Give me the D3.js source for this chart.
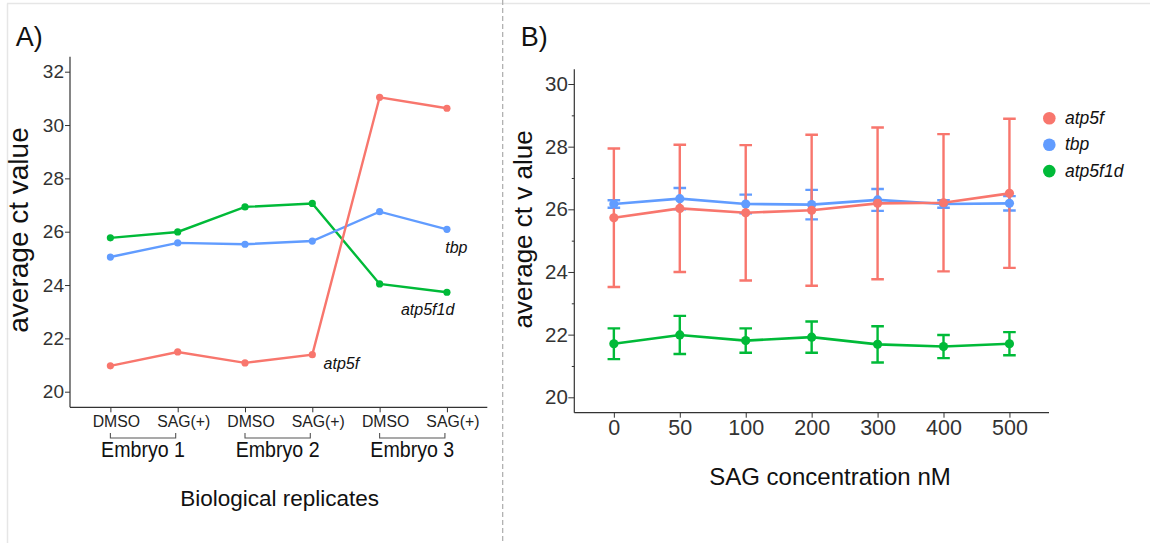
<!DOCTYPE html>
<html><head><meta charset="utf-8">
<script src="https://cdn.jsdelivr.net/npm/d3@7"></script>
<style>body{margin:0;background:#fff} text{font-family:"Liberation Sans",Arial,Helvetica,sans-serif}</style>
</head><body><svg id="c" width="1150" height="543"></svg>
<script>
// ---------- Panel A data ----------
const samplesA = ["E1 DMSO","E1 SAG","E2 DMSO","E2 SAG","E3 DMSO","E3 SAG"];
const treatmentLabels = ["DMSO","SAG(+)","DMSO","SAG(+)","DMSO","SAG(+)"];
const embryoLabels = ["Embryo 1","Embryo 2","Embryo 3"];
const atp5fA   = [20.97,21.49,21.08,21.39,31.04,30.63];
const tbpA     = [25.05,25.58,25.53,25.65,26.75,26.09];
const atp5f1dA = [25.77,25.99,26.93,27.06,24.04,23.73];
const yTicksA  = [20,22,24,26,28,30,32];

// ---------- Panel B data ----------
const concB      = ["0","50","100","200","300","400","500"];
const atp5fB     = [25.73,26.03,25.89,25.97,26.19,26.21,26.51];
const atp5fErrB  = [2.21,2.03,2.16,2.41,2.42,2.19,2.38];
const tbpB       = [26.17,26.34,26.17,26.15,26.30,26.17,26.19];
const tbpErrB    = [0.12,0.34,0.30,0.47,0.35,0.12,0.23];
const atp5f1dB   = [21.71,21.99,21.81,21.92,21.69,21.62,21.71];
const atp5f1dErrB= [0.49,0.61,0.39,0.50,0.58,0.37,0.37];
const yTicksB    = [20,21,22,23,24,25,26,27,28,29,30];

const genes = ["atp5f","tbp","atp5f1d"];
const colors = {atp5f:"#F8766D", tbp:"#619CFF", atp5f1d:"#00BA38"};

const svg = d3.select("#c");
const AX = "#333";

// frame and divider
svg.append("line").attr("x1",7).attr("x2",1150).attr("y1",3.5).attr("y2",3.5).attr("stroke","#e6e6e6").attr("stroke-width",1.5);
svg.append("line").attr("x1",7.5).attr("x2",7.5).attr("y1",3.5).attr("y2",543).attr("stroke","#e6e6e6").attr("stroke-width",1.5);
svg.append("line").attr("x1",502.7).attr("x2",502.7).attr("y1",0).attr("y2",543).attr("stroke","#aaa").attr("stroke-width",1.2).attr("stroke-dasharray","5,3");

// ================= Panel A =================
const xA = d3.scalePoint().domain(samplesA).range([70,487.3]).padding(0.6);
const yA = d3.scaleLinear().domain([20,32]).range([391.7,71.7]);

svg.append("text").attr("x",15.7).attr("y",45.5).attr("font-size",27).attr("fill","#111").text("A)");

const gyA = svg.append("g").attr("transform","translate(70,0)")
  .call(d3.axisLeft(yA).tickValues(yTicksA).tickSize(5).tickPadding(1));
gyA.select(".domain").remove();
gyA.selectAll(".tick line").attr("stroke",AX);
gyA.selectAll(".tick text").attr("font-size",19).attr("fill","#333").attr("font-family",null);
svg.append("line").attr("x1",70).attr("x2",70).attr("y1",56.7).attr("y2",407.3).attr("stroke",AX).attr("stroke-width",1.2);

const gxA = svg.append("g").attr("transform","translate(0,407.3)")
  .call(d3.axisBottom(xA).tickSize(5).tickFormat(""));
gxA.select(".domain").remove();
gxA.selectAll(".tick line").attr("stroke",AX);
svg.append("line").attr("x1",70).attr("x2",487.3).attr("y1",407.3).attr("y2",407.3).attr("stroke",AX).attr("stroke-width",1.2);

svg.append("g").selectAll("text").data(samplesA).join("text")
  .attr("x",(d)=>xA(d)+6).attr("y",426.7).attr("text-anchor","middle")
  .attr("font-size",15.8).attr("fill","#222")
  .text((d,i)=>treatmentLabels[i]);

embryoLabels.forEach((lab,i)=>{
  const x1 = xA(samplesA[2*i]), x2 = xA(samplesA[2*i+1]) - 2;
  svg.append("path").attr("d",`M${x1},433V438H${x2}V433`).attr("fill","none").attr("stroke","#555").attr("stroke-width",1.1);
  svg.append("text").attr("transform",`translate(${(x1+x2)/2},457) scale(1,1.1)`).attr("text-anchor","middle")
    .attr("font-size",19.6).attr("fill","#111").text(lab);
});

svg.append("text").attr("x",279.7).attr("y",506).attr("text-anchor","middle")
  .attr("font-size",22.5).attr("fill","#111").text("Biological replicates");
svg.append("text").attr("transform","translate(28,230) rotate(-90)").attr("text-anchor","middle")
  .attr("font-size",28).attr("fill","#111").text("average ct value");

const seriesA = {atp5f:atp5fA, tbp:tbpA, atp5f1d:atp5f1dA};
const lineA = d3.line().x((d,i)=>xA(samplesA[i])).y(d=>yA(d));
["atp5f1d","tbp","atp5f"].forEach(g=>{
  svg.append("path").attr("d",lineA(seriesA[g])).attr("fill","none")
    .attr("stroke",colors[g]).attr("stroke-width",2.4);
  svg.append("g").selectAll("circle").data(seriesA[g]).join("circle")
    .attr("cx",(d,i)=>xA(samplesA[i])).attr("cy",d=>yA(d)).attr("r",3.6).attr("fill",colors[g]);
});
// direct labels
const lastA = samplesA.length-1;
svg.append("text").attr("x",xA(samplesA[lastA])-1.7).attr("y",yA(tbpA[lastA])+23.4)
  .attr("font-size",16).attr("font-style","italic").attr("fill","#111").text("tbp");
svg.append("text").attr("x",xA(samplesA[lastA])-46).attr("y",yA(atp5f1dA[lastA])+22.7)
  .attr("font-size",16).attr("font-style","italic").attr("fill","#111").text("atp5f1d");
svg.append("text").attr("x",xA(samplesA[3])+11.3).attr("y",yA(atp5fA[3])+14.6)
  .attr("font-size",16).attr("font-style","italic").attr("fill","#111").text("atp5f");

// ================= Panel B =================
const xB = d3.scalePoint().domain(concB).range([574.3,1049]).padding(0.6);
const yB = d3.scaleLinear().domain([20,30]).range([397.3,84]);

svg.append("text").attr("x",520.7).attr("y",45.5).attr("font-size",27).attr("fill","#111").text("B)");

const gyB = svg.append("g").attr("transform","translate(574.3,0)")
  .call(d3.axisLeft(yB).tickValues(yTicksB).tickSize(6).tickPadding(0.5).tickFormat(d=>d%2?"":d));
gyB.select(".domain").remove();
gyB.selectAll(".tick line").attr("stroke",AX).attr("x2",d=>d%2?-2.5:-6);
gyB.selectAll(".tick text").attr("font-size",20.5).attr("fill","#333").attr("font-family",null);
svg.append("line").attr("x1",574.3).attr("x2",574.3).attr("y1",69.3).attr("y2",412.7).attr("stroke",AX).attr("stroke-width",1.2);

const gxB = svg.append("g").attr("transform","translate(0,412.7)")
  .call(d3.axisBottom(xB).tickSize(5));
gxB.select(".domain").remove();
gxB.selectAll(".tick line").attr("stroke",AX);
gxB.selectAll(".tick text").attr("font-size",21.5).attr("fill","#333").attr("font-family",null)
  .attr("y",22.3).attr("dy",0);
svg.append("line").attr("x1",574.3).attr("x2",1049).attr("y1",412.7).attr("y2",412.7).attr("stroke",AX).attr("stroke-width",1.2);

svg.append("text").attr("x",830).attr("y",485).attr("text-anchor","middle")
  .attr("font-size",24).attr("fill","#111").text("SAG concentration nM");
svg.append("text").attr("transform","translate(532,229.4) rotate(-90)").attr("text-anchor","middle")
  .attr("font-size",26).attr("fill","#111").text("average ct v alue");

const seriesB = {atp5f:[atp5fB,atp5fErrB], tbp:[tbpB,tbpErrB], atp5f1d:[atp5f1dB,atp5f1dErrB]};
const order = ["tbp","atp5f1d","atp5f"];
// error bars
order.forEach(g=>{
  const [m,e] = seriesB[g];
  const gg = svg.append("g").attr("stroke",colors[g]).attr("stroke-width",2.4).attr("fill","none");
  m.forEach((v,i)=>{
    const x = xB(concB[i]), y1 = yB(v-e[i]), y2 = yB(v+e[i]);
    gg.append("path").attr("d",`M${x},${y1}V${y2}M${x-6.3},${y1}H${x+6.3}M${x-6.3},${y2}H${x+6.3}`);
  });
});
const lineB = d3.line().x((d,i)=>xB(concB[i])).y(d=>yB(d));
order.forEach(g=>{
  svg.append("path").attr("d",lineB(seriesB[g][0])).attr("fill","none")
    .attr("stroke",colors[g]).attr("stroke-width",2.6);
});
order.forEach(g=>{
  svg.append("g").selectAll("circle").data(seriesB[g][0]).join("circle")
    .attr("cx",(d,i)=>xB(concB[i])).attr("cy",d=>yB(d)).attr("r",4.6).attr("fill",colors[g]);
});

// legend
genes.forEach((g,i)=>{
  const y = 118.3 + i*26.4;
  svg.append("circle").attr("cx",1049.3).attr("cy",y).attr("r",6.3).attr("fill",colors[g]);
  svg.append("text").attr("x",1065).attr("y",y+5.5).attr("font-size",17.5).attr("font-style","italic")
    .attr("fill","#111").text(g);
});
</script></body></html>
